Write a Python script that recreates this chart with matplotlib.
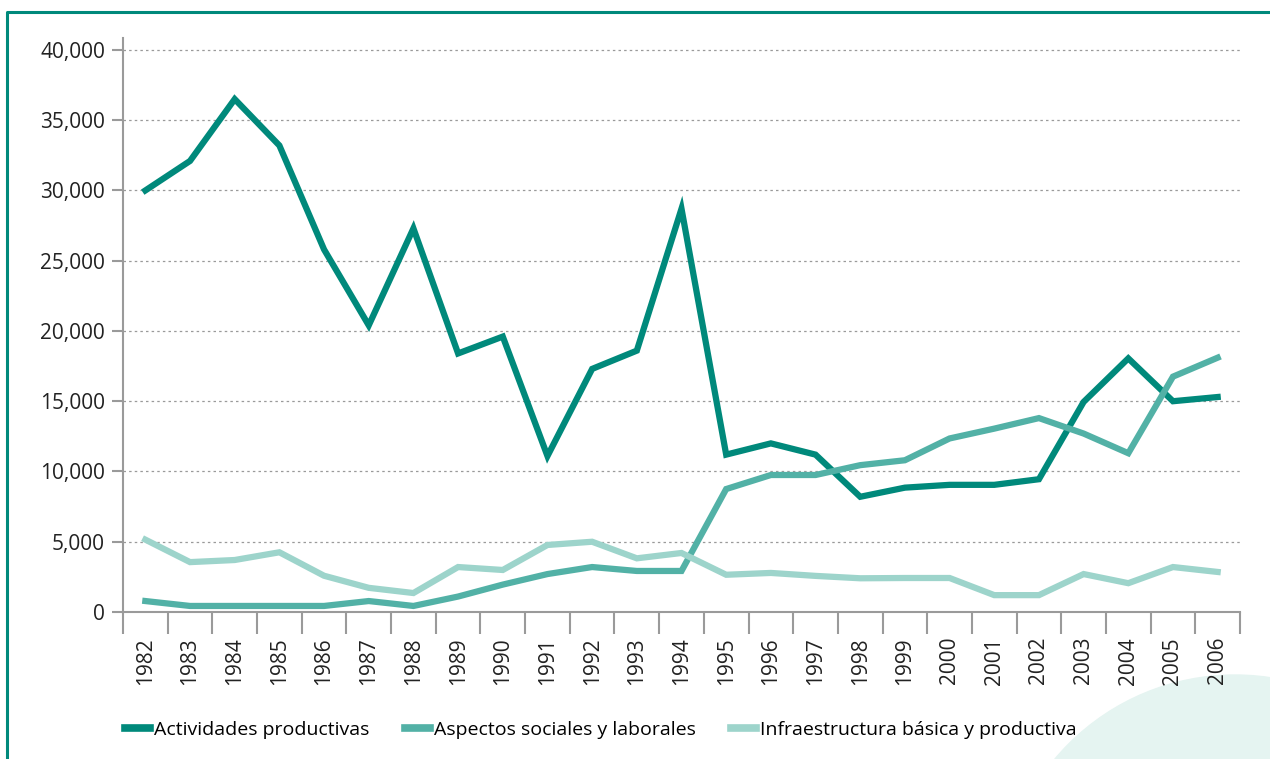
import numpy as np
import matplotlib.pyplot as plt
from matplotlib.patches import Circle
from matplotlib.lines import Line2D

plt.rcParams['font.family'] = ['Open Sans', 'DejaVu Sans']

anios = [str(a) for a in range(1982, 2007)]

actividades = [30000, 32100, 36500, 33200, 25800, 20400, 27300, 18400, 19600, 11100,
               17300, 18600, 28700, 11200, 12000, 11200, 8200, 8850, 9050, 9050,
               9450, 14950, 18050, 15000, 15300]
aspectos = [780, 430, 430, 430, 430, 780, 430, 1100, 1950, 2700,
            3200, 2920, 2920, 8750, 9750, 9750, 10450, 10800, 12350, 13050,
            13800, 12700, 11300, 16750, 18100]
infraestructura = [5150, 3550, 3700, 4250, 2580, 1720, 1350, 3200, 2990, 4770,
                   5000, 3820, 4200, 2650, 2780, 2570, 2400, 2420, 2420, 1200,
                   1200, 2700, 2050, 3200, 2850]

series = [("Actividades productivas", actividades, "#00897b"),
          ("Aspectos sociales y laborales", aspectos, "#52b1a6"),
          ("Infraestructura básica y productiva", infraestructura, "#9dd4cb")]

W, H = 1270, 759
fig = plt.figure(figsize=(W / 100, H / 100), dpi=100)

# fondo: circulo decorativo y marco
fondo = fig.add_axes([0, 0, 1, 1])
fondo.set_xlim(0, W)
fondo.set_ylim(H, 0)
fondo.axis("off")
fondo.add_patch(Circle((1235, 910), 235, color="#e5f4f1", zorder=0))
fondo.plot([7, 7, W + 5], [H + 5, 12, 12], color="#00897b", lw=2.2, solid_capstyle="butt")

ax = fig.add_axes([123 / W, 1 - 612 / H, (1240 - 123) / W, (612 - 38) / H])
ax.patch.set_alpha(0)
x = np.arange(len(anios))
for nombre, vals, col in series:
    ax.plot(x, vals, color=col, lw=4.5, label=nombre, solid_joinstyle="miter")

ax.set_xlim(-0.5, len(anios) - 0.5)
ax.set_ylim(0, 40850)
yt = np.arange(0, 40001, 5000)
ax.set_yticks(yt)
ax.set_yticklabels([f"{v:,}" for v in yt], fontsize=15, color="#222222")
ax.set_xticks(x)
ax.set_xticklabels(anios, rotation=90, fontsize=15, color="#222222")
ax.set_xticks(np.arange(-0.5, len(anios)), minor=True)
ax.tick_params(axis="x", which="major", length=0, pad=18)
ax.tick_params(axis="x", which="minor", length=16, width=1.5, color="#9a9a9a")
ax.tick_params(axis="y", length=8, width=1.5, color="#9a9a9a", pad=5)

for s in ["top", "right"]:
    ax.spines[s].set_visible(False)
for s in ["left", "bottom"]:
    ax.spines[s].set_color("#9a9a9a")
    ax.spines[s].set_linewidth(1.5)

for v in yt[1:]:
    ax.axhline(v, color="#9a9a9a", lw=0.9, ls=(0, (2, 2.5)), zorder=0)

handles = [Line2D([0], [0], color=c, lw=5.5) for _, _, c in series]
fig.legend(handles, [n for n, _, _ in series], loc="center left",
           bbox_to_anchor=(125 / W, 1 - 730 / H), ncol=3, frameon=False,
           borderaxespad=0, borderpad=0,
           fontsize=14, handlelength=1.3, handletextpad=0.2, columnspacing=1.8)

fig.savefig("out.png", dpi=100)
